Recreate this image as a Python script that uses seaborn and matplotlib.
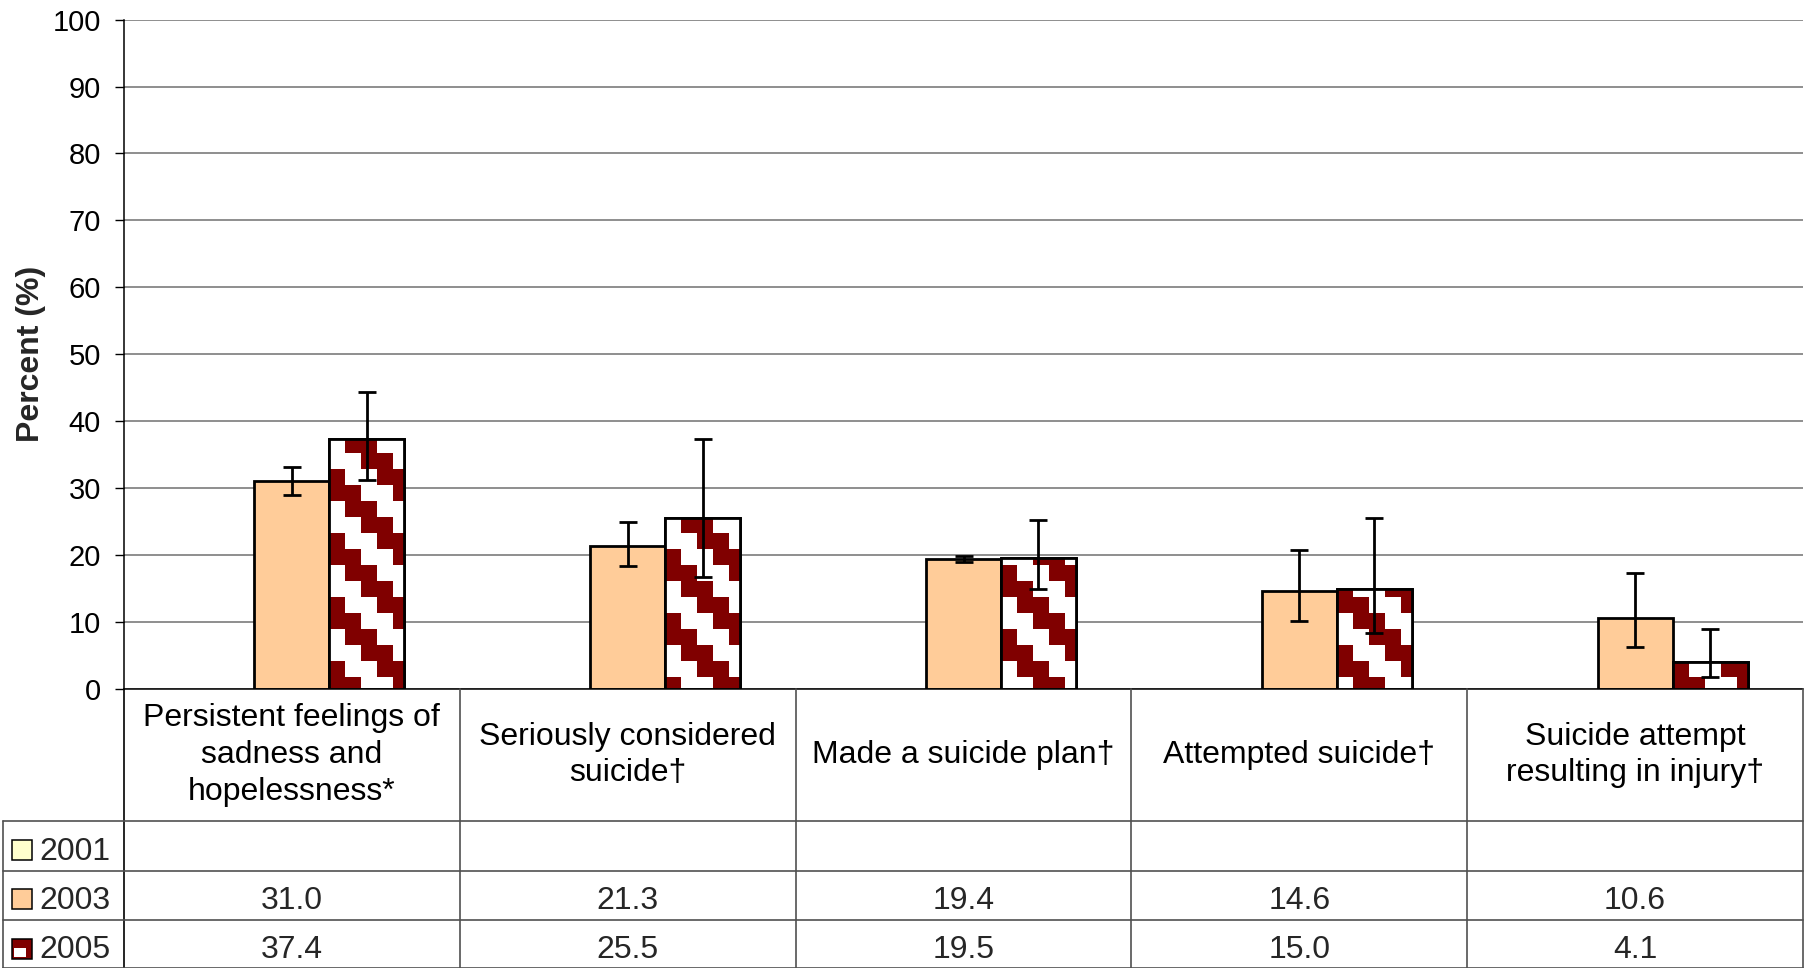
import numpy as np
import pandas as pd
import matplotlib
matplotlib.use("Agg")
import matplotlib.pyplot as plt
import seaborn as sns
from matplotlib.patches import Rectangle
from matplotlib.lines import Line2D

# ---------------- data ----------------
categories = [
    "Persistent feelings of\nsadness and\nhopelessness*",
    "Seriously considered\nsuicide\u2020",
    "Made a suicide plan\u2020",
    "Attempted suicide\u2020",
    "Suicide attempt\nresulting in injury\u2020",
]
years = ["2001", "2003", "2005"]
values_2001 = [np.nan, np.nan, np.nan, np.nan, np.nan]
values_2003 = [31.0, 21.3, 19.4, 14.6, 10.6]
values_2005 = [37.4, 25.5, 19.5, 15.0, 4.1]
low_2003 = [29.0, 18.3, 19.0, 10.1, 6.3]
high_2003 = [33.2, 24.9, 19.8, 20.7, 17.4]
low_2005 = [31.2, 16.7, 14.9, 8.3, 1.8]
high_2005 = [44.3, 37.3, 25.2, 25.5, 8.9]
y_ticks = list(range(0, 101, 10))

colors = {"2001": "#FFFFCC", "2003": "#FFCC99", "2005": "#FFFFFF"}
maroon = "#800000"

df = pd.DataFrame({
    "category": categories * 3,
    "year": ["2001"] * 5 + ["2003"] * 5 + ["2005"] * 5,
    "value": values_2001 + values_2003 + values_2005,
})

# ---------------- figure ----------------
sns.set_style("white")
plt.rcParams["font.family"] = ["Liberation Sans", "DejaVu Sans"]

W, H = 1811, 968
fig = plt.figure(figsize=(W / 100, H / 100), dpi=100)
ax_left, ax_right, ax_top, ax_bottom = 124, 1803, 19.6, 689
ax = fig.add_axes([ax_left / W, 1 - ax_bottom / H,
                   (ax_right - ax_left) / W, (ax_bottom - ax_top) / H])

sns.barplot(data=df, x="category", y="value", hue="year", hue_order=years,
            order=categories, palette=colors, width=0.67, saturation=1,
            edgecolor="black", linewidth=2.0, errorbar=None, legend=False,
            ax=ax)

ax.set_xlim(-0.5, len(categories) - 0.5)
ax.set_ylim(0, 100)
ax.set_autoscale_on(False)
ax.set_yticks(y_ticks)
ax.set_xticks([])
ax.set_xlabel("")
ax.set_ylabel("Percent (%)", fontsize=23, fontweight="bold")
ax.yaxis.label.set_va("center")
ax.yaxis.set_label_coords((31 - ax_left) / (ax_right - ax_left), 0.5)
ax.tick_params(axis="y", labelsize=21, length=6.5, width=1.0, pad=10,
               colors="black", left=True, direction="out")
ax.set_axisbelow(True)
ax.yaxis.grid(True, color="#707070", linewidth=1.1)
ax.xaxis.grid(False)
for s in ["top", "right"]:
    ax.spines[s].set_visible(False)
for s in ["left", "bottom"]:
    ax.spines[s].set_color("black")
    ax.spines[s].set_linewidth(1.1)

# ---------------- identify bars ----------------
bars03 = {}
bars05 = {}
for p in ax.patches:
    h = p.get_height()
    if not np.isfinite(h):
        continue
    cx = p.get_x() + p.get_width() / 2
    idx = int(round(cx))
    off = cx - idx
    if abs(off) < 0.1:
        bars03[idx] = p
    elif off > 0.1:
        bars05[idx] = p

# ---------------- staircase pattern for 2005 ----------------
fig.canvas.draw()
inv = ax.transData.inverted()


def px2data(xp, yp):
    return inv.transform((xp, H - yp))


cell = 16
x_org, y_org = 9 - cell, 5.33 - cell
ncols = int(W / cell) + 3
nrows = int(H / cell) + 3
ii, jj = np.meshgrid(np.arange(ncols) - 1, np.arange(nrows) - 1)
dark = np.isin((ii - jj) % 4, [2, 3])
pat = np.ones((nrows, ncols, 3))
mr = np.array([0x80, 0, 0]) / 255.0
pat[dark] = mr
x0d, ytd = px2data(x_org, y_org)
x1d, ybd = px2data(x_org + cell * ncols, y_org + cell * nrows)

for idx, p in bars05.items():
    im = ax.imshow(pat, extent=(x0d, x1d, ybd, ytd), origin="upper",
                   interpolation="nearest", aspect="auto", zorder=2.5)
    im.set_clip_path(p)
    ax.add_patch(Rectangle((p.get_x(), p.get_y()), p.get_width(), p.get_height(),
                           fill=False, edgecolor="black", linewidth=2.0, zorder=3))

# ---------------- error bars ----------------
for bars, vals, lo, hi in [(bars03, values_2003, low_2003, high_2003),
                           (bars05, values_2005, low_2005, high_2005)]:
    xs = [bars[i].get_x() + bars[i].get_width() / 2 for i in range(len(vals))]
    yv = np.array(vals)
    yerr = [yv - np.array(lo), np.array(hi) - yv]
    ax.errorbar(xs, yv, yerr=yerr, fmt="none", ecolor="black",
                elinewidth=2.0, capsize=6.5, capthick=2.0, zorder=5)

ax.set_xlim(-0.5, len(categories) - 0.5)
ax.set_ylim(0, 100)

# ---------------- data table ----------------
def fx(x):
    return x / W


def fy(y):
    return 1 - y / H


def line(xs, ys, color="#505050", lw=1.2):
    fig.add_artist(Line2D([fx(x) for x in xs], [fy(y) for y in ys],
                          transform=fig.transFigure, color=color, lw=lw))


col_edges = [ax.transData.transform((k - 0.5, 0))[0] for k in range(len(categories) + 1)]
col_centers = [(col_edges[k] + col_edges[k + 1]) / 2 for k in range(len(categories))]
row_lines = [821, 870.5, 920, 967.5]
tbl_left = 3

# vertical lines
line([col_edges[0], col_edges[0]], [ax_bottom, H], color="black")
for xe in col_edges[1:]:
    line([xe, xe], [ax_bottom, H])
line([tbl_left, tbl_left], [row_lines[0], H])
# horizontal lines
for yr in row_lines:
    line([tbl_left, col_edges[-1]], [yr, yr])

# category labels
for k, cat in enumerate(categories):
    fig.text(fx(col_centers[k]), fy(755), cat, ha="center", va="center",
             fontsize=23, linespacing=1.3, color="black")

# legend rows with values
row_values = [values_2001, values_2003, values_2005]
for r, yr in enumerate(years):
    top = row_lines[r]
    base = top + 38.5
    # swatch
    sx, sy, sw = 12, base - 20, 20
    if yr == "2005":
        fig.add_artist(Rectangle((fx(sx), fy(sy + sw)), sw / W, sw / H,
                                 transform=fig.transFigure, facecolor=maroon,
                                 edgecolor="black", linewidth=1.1))
        fig.add_artist(Rectangle((fx(sx + 1.5), fy(sy + sw - 1.5)), 12.5 / W, 9 / H,
                                 transform=fig.transFigure, facecolor="white",
                                 edgecolor="none"))
    else:
        fig.add_artist(Rectangle((fx(sx), fy(sy + sw)), sw / W, sw / H,
                                 transform=fig.transFigure, facecolor=colors[yr],
                                 edgecolor="black", linewidth=1.1))
    fig.text(fx(39), fy(base), yr, ha="left", va="baseline", fontsize=23)
    for k, v in enumerate(row_values[r]):
        if np.isfinite(v):
            fig.text(fx(col_centers[k]), fy(base), f"{v:.1f}", ha="center",
                     va="baseline", fontsize=23)

fig.savefig("out.png", dpi=100, facecolor="white")
